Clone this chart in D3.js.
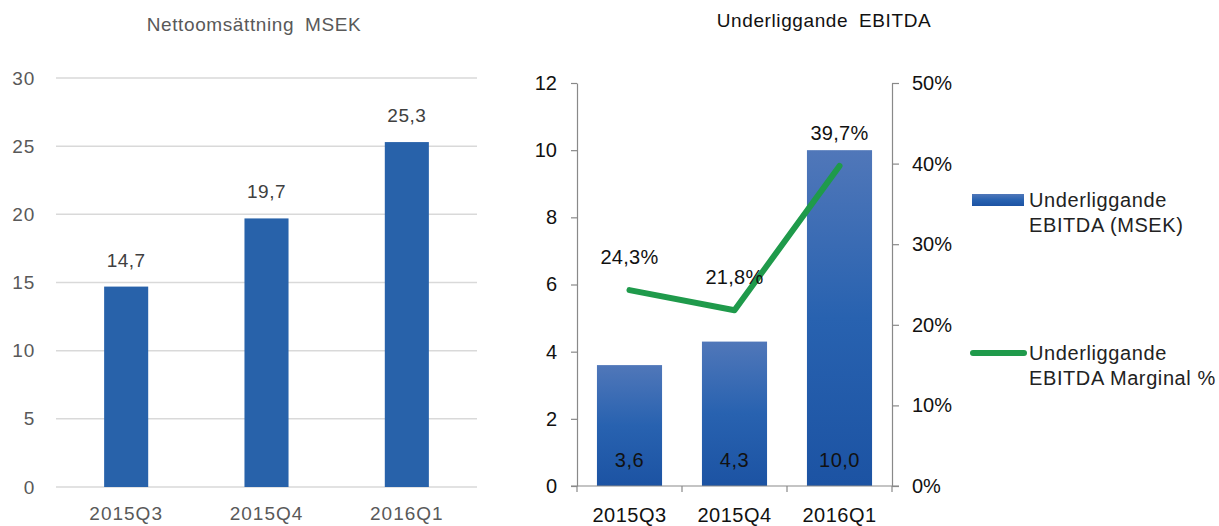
<html>
<head>
<meta charset="utf-8">
<title>Nettoomsättning och EBITDA</title>
<style>
  body { margin: 0; background: #fff; font-family: "Liberation Sans", Arial, Helvetica, sans-serif; }
  .grid line { stroke: #d9d9d9; stroke-width: 1.5px; }
  .axis path, .axis line { stroke: #898989; stroke-width: 1.2px; fill: none; }
</style>
</head>
<body>
<script src="https://cdn.jsdelivr.net/npm/d3@7/dist/d3.min.js"></script>
<script>
var quarters = ["2015Q3", "2015Q4", "2016Q1"];
var nettoomsattning = [14.7, 19.7, 25.3];
var ebitda = [3.6, 4.3, 10.0];
var marginal = [24.3, 21.8, 39.7];
var leftTicks = [0, 5, 10, 15, 20, 25, 30];
var ebitdaTicks = [0, 2, 4, 6, 8, 10, 12];
var pctTicks = [0, 10, 20, 30, 40, 50];
var legendLabels = [["Underliggande", "EBITDA (MSEK)"], ["Underliggande", "EBITDA Marginal %"]];

var fmt = function(v) { return d3.format(".1f")(v).replace(".", ","); };

var svg = d3.select("body").append("svg")
  .attr("width", 1219)
  .attr("height", 526);

// ---------- left chart: Nettoomsättning ----------
var left = svg.append("g");

var x1 = d3.scaleBand().domain(quarters).range([56, 477]).paddingInner(0.686).paddingOuter(0.343);
var y1 = d3.scaleLinear().domain([0, 30]).range([487, 78]);

left.append("text")
  .attr("x", 254).attr("y", 31)
  .attr("text-anchor", "middle")
  .attr("font-size", 19).attr("fill", "#595959")
  .attr("letter-spacing", 0.6).attr("word-spacing", 5)
  .text("Nettoomsättning MSEK");

left.append("g").attr("class", "grid")
  .selectAll("line").data(leftTicks).enter().append("line")
  .attr("x1", 56).attr("x2", 477)
  .attr("y1", function(d) { return y1(d); })
  .attr("y2", function(d) { return y1(d); });

left.append("g").selectAll("text").data(leftTicks).enter().append("text")
  .attr("x", 35).attr("y", function(d) { return y1(d); })
  .attr("dy", "0.35em")
  .attr("text-anchor", "end")
  .attr("font-size", 19).attr("fill", "#595959")
  .attr("letter-spacing", 0.8)
  .text(function(d) { return d; });

left.append("g").selectAll("rect").data(nettoomsattning).enter().append("rect")
  .attr("x", function(d, i) { return x1(quarters[i]); })
  .attr("width", x1.bandwidth())
  .attr("y", function(d) { return y1(d); })
  .attr("height", function(d) { return y1(0) - y1(d); })
  .attr("fill", "#2862aa");

left.append("g").selectAll("text").data(nettoomsattning).enter().append("text")
  .attr("x", function(d, i) { return x1(quarters[i]) + x1.bandwidth() / 2; })
  .attr("y", function(d) { return y1(d) - 20; })
  .attr("text-anchor", "middle")
  .attr("font-size", 19).attr("fill", "#404040")
  .attr("letter-spacing", 0.5)
  .text(fmt);

left.append("g").selectAll("text").data(quarters).enter().append("text")
  .attr("x", function(d) { return x1(d) + x1.bandwidth() / 2; })
  .attr("y", 520)
  .attr("text-anchor", "middle")
  .attr("font-size", 19).attr("fill", "#595959")
  .attr("letter-spacing", 1)
  .text(function(d) { return d; });

// ---------- right chart: Underliggande EBITDA ----------
var right = svg.append("g");

var x2 = d3.scaleBand().domain(quarters).range([577, 892]).paddingInner(0.38).paddingOuter(0.19);
var y2 = d3.scaleLinear().domain([0, 12]).range([486, 83]);
var y3 = d3.scaleLinear().domain([0, 50]).range([486, 83]);

var grad = svg.append("defs").append("linearGradient")
  .attr("id", "barGrad")
  .attr("x1", 0).attr("y1", 0).attr("x2", 0).attr("y2", 1);
grad.append("stop").attr("offset", "0%").attr("stop-color", "#5077b9");
grad.append("stop").attr("offset", "50%").attr("stop-color", "#2862b0");
grad.append("stop").attr("offset", "100%").attr("stop-color", "#1c53a3");

right.append("text")
  .attr("x", 824).attr("y", 27)
  .attr("text-anchor", "middle")
  .attr("font-size", 19).attr("fill", "#111")
  .attr("letter-spacing", 0.6).attr("word-spacing", 5)
  .text("Underliggande EBITDA");

right.append("g").selectAll("rect").data(ebitda).enter().append("rect")
  .attr("x", function(d, i) { return x2(quarters[i]); })
  .attr("width", x2.bandwidth())
  .attr("y", function(d) { return y2(d); })
  .attr("height", function(d) { return y2(0) - y2(d); })
  .attr("fill", "url(#barGrad)");

var leftAxis = right.append("g").attr("class", "axis")
  .attr("transform", "translate(577,0)")
  .call(d3.axisLeft(y2).tickValues(ebitdaTicks).tickSize(6).tickSizeOuter(0));
leftAxis.selectAll("text").attr("font-size", 20).attr("fill", "#111")
  .attr("font-family", "Liberation Sans, Arial, sans-serif").attr("x", -20);

var rightAxis = right.append("g").attr("class", "axis")
  .attr("transform", "translate(892,0)")
  .call(d3.axisRight(y3).tickValues(pctTicks).tickSize(7).tickSizeOuter(0)
    .tickFormat(function(d) { return d + "%"; }));
rightAxis.selectAll("text").attr("font-size", 20).attr("fill", "#111")
  .attr("font-family", "Liberation Sans, Arial, sans-serif").attr("x", 20);

// bottom axis with ticks at band edges
right.append("line")
  .attr("x1", 571).attr("x2", 899)
  .attr("y1", y2(0)).attr("y2", y2(0))
  .attr("stroke", "#898989").attr("stroke-width", 1.2);
var edges = quarters.map(function(q) { return x2(q) - x2.step() * x2.paddingInner() / 2; })
  .concat([x2(quarters[2]) + x2.bandwidth() + x2.step() * x2.paddingInner() / 2]);
right.append("g").selectAll("line").data(edges).enter().append("line")
  .attr("x1", function(d) { return d; }).attr("x2", function(d) { return d; })
  .attr("y1", y2(0)).attr("y2", y2(0) + 6)
  .attr("stroke", "#898989").attr("stroke-width", 1.2);

right.append("g").selectAll("text").data(quarters).enter().append("text")
  .attr("x", function(d) { return x2(d) + x2.bandwidth() / 2; })
  .attr("y", 522)
  .attr("text-anchor", "middle")
  .attr("font-size", 20).attr("fill", "#111")
  .attr("letter-spacing", 0.5)
  .text(function(d) { return d; });

right.append("g").selectAll("text").data(ebitda).enter().append("text")
  .attr("x", function(d, i) { return x2(quarters[i]) + x2.bandwidth() / 2; })
  .attr("y", 467)
  .attr("text-anchor", "middle")
  .attr("font-size", 20).attr("fill", "#111")
  .attr("letter-spacing", 0.5)
  .text(fmt);

var line = d3.line()
  .x(function(d, i) { return x2(quarters[i]) + x2.bandwidth() / 2; })
  .y(function(d) { return y3(d); });

right.append("path").datum(marginal)
  .attr("d", line)
  .attr("fill", "none")
  .attr("stroke", "#1f9a4b")
  .attr("stroke-width", 6)
  .attr("stroke-linecap", "round")
  .attr("stroke-linejoin", "round");

right.append("g").selectAll("text").data(marginal).enter().append("text")
  .attr("x", function(d, i) { return x2(quarters[i]) + x2.bandwidth() / 2; })
  .attr("y", function(d) { return y3(d) - 26; })
  .attr("text-anchor", "middle")
  .attr("font-size", 20).attr("fill", "#111")
  .attr("letter-spacing", 0.3)
  .text(function(d) { return fmt(d) + "%"; });

// ---------- legend ----------
var legend = svg.append("g");
legend.append("rect")
  .attr("x", 972).attr("y", 194).attr("width", 52).attr("height", 12)
  .attr("fill", "url(#barGrad)");
legend.append("line")
  .attr("x1", 973).attr("x2", 1024).attr("y1", 353).attr("y2", 353)
  .attr("stroke", "#1f9a4b").attr("stroke-width", 6).attr("stroke-linecap", "round");

var legendY = [200, 353];
legendLabels.forEach(function(lines, i) {
  var t = legend.append("text")
    .attr("x", 1029).attr("y", legendY[i])
    .attr("font-size", 20).attr("fill", "#222")
    .attr("letter-spacing", 0.6);
  lines.forEach(function(s, j) {
    t.append("tspan").attr("x", 1029).attr("y", legendY[i] + j * 25).attr("dy", "0.35em").text(s);
  });
});
</script>
</body>
</html>
